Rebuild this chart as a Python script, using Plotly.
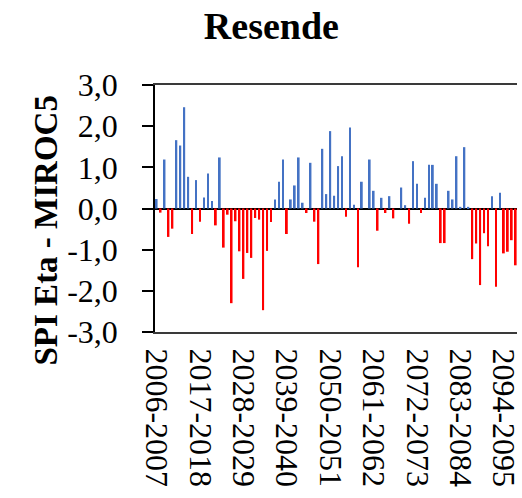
import plotly.graph_objects as go

# Hydrological years shown (2006-2007 ... 2097-2098, the visible part of the chart)
start_years = list(range(2006, 2098))
categories = [f"{y}-{y + 1}" for y in start_years]

spi_values = [
    0.23, -0.10, 1.19, -0.69, -0.49, 1.66, 1.53, 2.46, 0.77, -0.62,
    0.69, -0.32, 0.27, 0.85, 0.18, -0.41, 1.24, -0.95, -0.15, -2.30,
    -0.31, -1.04, -1.71, -1.08, -1.20, -0.23, -0.27, -2.47, -1.03, -0.33,
    0.22, 0.65, 1.19, -0.62, 0.22, 0.56, 1.24, 0.14, -0.11, 1.11,
    -0.32, -1.35, 1.45, 0.35, 1.88, 0.31, 1.03, 1.27, -0.20, 1.97,
    0.09, -1.43, 0.65, 0.00, 1.19, 0.43, -0.54, 0.26, -0.11, 0.30,
    -0.24, 0.00, 0.51, 0.08, -0.37, 1.15, 0.60, -0.11, 0.26, 1.06,
    1.06, 0.60, -0.84, -0.84, 0.43, 0.22, 1.27, 0.04, 1.49, 0.04,
    -1.23, -0.85, -1.86, -0.60, -0.92, 0.30, -1.90, 0.38, -1.09, -1.05,
    -0.77, -1.38,
]

tick_labels = categories[::11]
y_tick_vals = [3, 2, 1, 0, -1, -2, -3]
y_tick_text = ["3,0", "2,0", "1,0", "0,0", "-1,0", "-2,0", "-3,0"]

POS_COLOR = "#4472C4"
NEG_COLOR = "#FF0000"
bar_colors = [POS_COLOR if v >= 0 else NEG_COLOR for v in spi_values]

SERIF = "Liberation Serif, Times New Roman, serif"

fig = go.Figure(
    go.Bar(
        x=categories,
        y=spi_values,
        marker=dict(color=bar_colors, line=dict(width=0)),
        width=0.45,
    )
)

fig.update_layout(
    width=522,
    height=498,
    margin=dict(l=155, r=0, t=85, b=166),
    paper_bgcolor="white",
    plot_bgcolor="white",
    showlegend=False,
    font=dict(family=SERIF, color="black"),
    title=dict(
        text="<b>Resende</b>",
        font=dict(family=SERIF, size=38, color="black"),
        xref="paper",
        x=0.3215,
        xanchor="center",
        yref="container",
        y=1 - 26 / 498,
        yanchor="middle",
    ),
    annotations=[
        dict(
            text="<b>SPI Eta - MIROC5</b>",
            textangle=-90,
            xref="paper",
            yref="paper",
            x=-0.3025,
            y=0.413,
            xanchor="center",
            yanchor="middle",
            showarrow=False,
            font=dict(family=SERIF, size=33, color="black"),
        )
    ],
)

fig.update_xaxes(
    type="category",
    range=[-0.425, 91.325],
    tickmode="array",
    tickvals=tick_labels,
    ticktext=tick_labels,
    tickangle=90,
    tickfont=dict(family=SERIF, size=32, color="black"),
    showline=True,
    linecolor="#3a3a3a",
    linewidth=2,
    mirror=True,
    ticks="",
    showgrid=False,
    zeroline=False,
    ticklabelstandoff=8,
)

fig.update_yaxes(
    range=[-3, 3],
    tickmode="array",
    tickvals=y_tick_vals,
    ticktext=y_tick_text,
    tickfont=dict(family=SERIF, size=32, color="black"),
    ticks="outside",
    ticklen=11,
    tickwidth=1.5,
    tickcolor="black",
    showline=True,
    linecolor="black",
    linewidth=1.5,
    mirror=False,
    showgrid=False,
    zeroline=True,
    zerolinecolor="black",
    zerolinewidth=1.5,
    ticklabelstandoff=18,
)

fig.write_html("out.html")
